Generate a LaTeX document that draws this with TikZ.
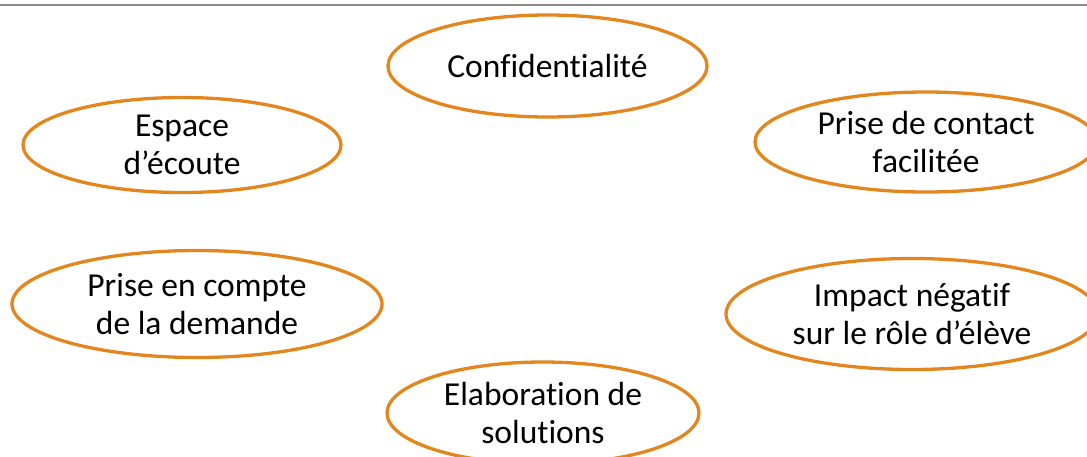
\documentclass[tikz,border=0pt]{standalone}
\usepackage{fontspec}
\setmainfont{Carlito}[Ligatures={NoCommon}]
\usetikzlibrary{shapes.geometric}
\definecolor{ring}{RGB}{228,134,30}
\definecolor{rule}{RGB}{140,140,140}
\begin{document}
\begin{tikzpicture}[x=1pt,y=-1pt,
  bubble/.style={draw=ring,line width=3.3pt,ellipse,inner sep=0pt,fill=white},
  lab/.style={align=center,font=\fontsize{33.5}{38}\selectfont,text=black}]
\useasboundingbox (0,0) rectangle (1087,456);
\clip (0,0) rectangle (1087,456);
\draw[rule,line width=2pt] (0,5) -- (1087,5);
\node[bubble,minimum width=319pt,minimum height=102pt] (conf) at (547.5,66) {};
\node[lab] at (conf) {Confidentialité};
\node[bubble,minimum width=318pt,minimum height=95pt] (esp) at (182,145) {};
\node[lab] at (esp) {Espace\\d’écoute};
\node[bubble,minimum width=342pt,minimum height=100pt] (prise) at (926,142) {};
\node[lab] at (prise) {Prise de contact\\facilitée};
\node[bubble,minimum width=370pt,minimum height=107pt] (dem) at (197,304) {};
\node[lab] at (dem) {Prise en compte\\de la demande};
\node[bubble,minimum width=372pt,minimum height=111pt] (imp) at (912,314) {};
\node[lab] at (imp) {Impact négatif\\sur le rôle d’élève};
\node[bubble,minimum width=312pt,minimum height=102pt] (elab) at (543,413) {};
\node[lab] at (elab) {Elaboration de\\solutions};
\end{tikzpicture}
\end{document}
